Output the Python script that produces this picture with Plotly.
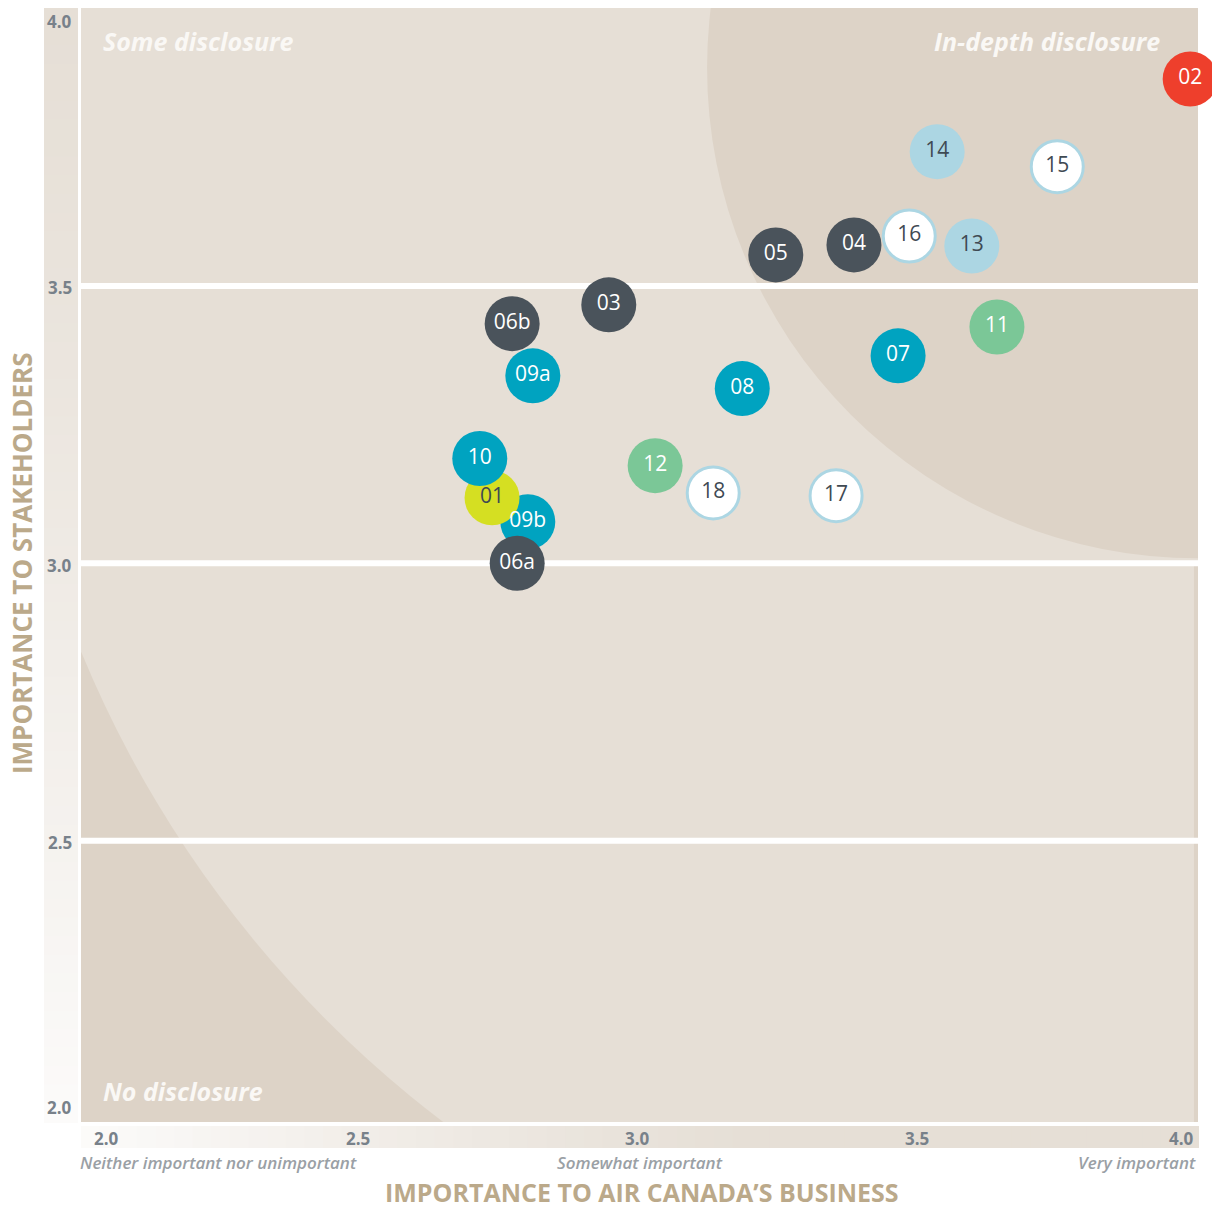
import plotly.graph_objects as go

# ---------------- data ----------------
labels = ["06b", "09a", "03", "09b", "01", "10", "06a", "12", "18", "17",
          "08", "07", "11", "05", "04", "16", "13", "14", "15", "02"]
business = [2.772, 2.809, 2.945, 2.800, 2.736, 2.714, 2.781, 3.028, 3.132, 3.352,
            3.184, 3.463, 3.640, 3.244, 3.384, 3.483, 3.595, 3.533, 3.748, 3.986]
stakeholders = [3.432, 3.338, 3.466, 3.075, 3.118, 3.189, 3.000, 3.176, 3.127, 3.122,
                3.315, 3.374, 3.426, 3.556, 3.574, 3.590, 3.572, 3.742, 3.715, 3.873]
groups = ["dark", "teal", "dark", "teal", "yellow", "teal", "dark", "green", "white", "white",
          "teal", "teal", "green", "dark", "dark", "white", "lightblue", "lightblue", "white", "red"]

x_ticks = [2.0, 2.5, 3.0, 3.5, 4.0]
x_tick_text = ["2.0", "2.5", "3.0", "3.5", "4.0"]
y_ticks = [2.0, 2.5, 3.0, 3.5, 4.0]
y_tick_text = ["2.0", "2.5", "3.0", "3.5", "4.0"]
x_scale_labels = ["Neither important nor unimportant", "Somewhat important", "Very important"]
x_scale_pos = [2.0, 3.0, 4.0]
zone_labels = ["Some disclosure", "In-depth disclosure", "No disclosure"]
grid_values = [2.5, 3.0, 3.5]

# ---------------- styles ----------------
fill = {"dark": "#4a535b", "teal": "#00a3c0", "yellow": "#d5df22", "green": "#7bc797",
        "white": "#ffffff", "lightblue": "#acd6e3", "red": "#ee3f2c"}
txtcol = {"dark": "#ffffff", "teal": "#ffffff", "yellow": "#3f4a53", "green": "#ffffff",
          "white": "#3f4a53", "lightblue": "#3f4a53", "red": "#ffffff"}
LIGHT = (230, 223, 214)
DARK = "#ddd3c7"
GREY = "#78818a"
TAN = "#bba98a"
FONT = "Open Sans"

W, H = 1212, 1209
ML, MR, MT, MB = 81, 14, 8, 87


def sy(py):  # screen y -> paper y
    return (H - MB - py) / (H - MT - MB)


def sx(px):  # screen x -> paper x
    return (px - ML) / (W - ML - MR)


fig = go.Figure()

# white grid lines (drawn under the markers)
gx, gy = [], []
for g in grid_values:
    gx += [1.9, 4.1, None]
    gy += [g, g, None]
fig.add_trace(go.Scatter(x=gx, y=gy, mode="lines", line=dict(color="white", width=6),
                         hoverinfo="skip", showlegend=False))

sizes = [52 if g == "white" else 55 for g in groups]
fig.add_trace(go.Scatter(
    x=business, y=stakeholders, mode="markers+text",
    text=labels, textposition="middle center",
    textfont=dict(family=FONT, size=21, color=[txtcol[g] for g in groups]),
    marker=dict(size=sizes, color=[fill[g] for g in groups], opacity=1,
                line=dict(color=["#acd6e3" if g == "white" else "rgba(0,0,0,0)" for g in groups],
                          width=[3 if g == "white" else 0 for g in groups])),
    cliponaxis=False, hoverinfo="skip", showlegend=False))

shapes = []
light = "rgb(%d,%d,%d)" % LIGHT
shapes.append(dict(type="circle", xref="x", yref="y", x0=1.848, x1=5.898, y0=1.5785, y1=5.6525,
                   fillcolor=light, line=dict(width=0), layer="below"))
shapes.append(dict(type="circle", xref="x", yref="y", x0=3.121, x1=4.879, y0=3.009, y1=4.777,
                   fillcolor=DARK, line=dict(width=0), layer="below"))
# thin darker edge on the right below the 3.0 line
shapes.append(dict(type="rect", xref="x", yref="y", x0=3.9928, x1=4.01, y0=1.98, y1=3.0,
                   fillcolor=DARK, line=dict(width=0), layer="below"))


def mix(t):
    w = (252, 251, 250)
    c = tuple(int(round(LIGHT[i] + (w[i] - LIGHT[i]) * t)) for i in range(3))
    return "rgb(%d,%d,%d)" % c


N = 60
top_px, bot_px = 8, 1122
for i in range(N):
    p0 = top_px + (bot_px - top_px) * i / N
    p1 = top_px + (bot_px - top_px) * (i + 1) / N + 1
    t = ((i + 0.5) / N) ** 1.3
    shapes.append(dict(type="rect", xref="paper", yref="paper",
                       x0=sx(44), x1=sx(78), y0=sy(p1), y1=sy(p0),
                       fillcolor=mix(t), line=dict(width=0), layer="below"))
for i in range(N):
    q0 = 81 + (1198 - 81) * i / N
    q1 = 81 + (1198 - 81) * (i + 1) / N + 1
    t = max(0.0, 1 - (i + 0.5) / (N * 0.6)) ** 1.2
    shapes.append(dict(type="rect", xref="paper", yref="paper",
                       x0=sx(q0), x1=sx(q1), y0=sy(1148), y1=sy(1126),
                       fillcolor=mix(t), line=dict(width=0), layer="below"))

ann = []
yshifts = {4.0: -13, 2.0: 11}
for v, t in zip(y_ticks, y_tick_text):
    ann.append(dict(x=0, xref="paper", y=v, yref="y", text=t, showarrow=False,
                    xanchor="right", yanchor="middle", xshift=-7, yshift=yshifts.get(v, -2),
                    font=dict(family=FONT, size=17, color=GREY, weight=700)))
for v, t in zip(x_ticks, x_tick_text):
    xa, xs = "center", -2
    if v == x_ticks[0]:
        xa, xs = "left", 11
    if v == x_ticks[-1]:
        xa, xs = "right", -2
    ann.append(dict(x=v, xref="x", y=0, yref="paper", text=t, showarrow=False,
                    xanchor=xa, yanchor="middle", xshift=xs, yshift=-16,
                    font=dict(family=FONT, size=17, color=GREY, weight=700)))
for v, t in zip(x_scale_pos, x_scale_labels):
    xa = "left" if v == x_scale_pos[0] else ("right" if v == x_scale_pos[-1] else "center")
    ann.append(dict(x=v, xref="x", y=0, yref="paper", text="<i>%s</i>" % t, showarrow=False,
                    xanchor=xa, yanchor="middle", xshift=(-3 if xa == "left" else 0), yshift=-40,
                    font=dict(family=FONT, size=17, color="#9aa0a5", weight=600)))
ann.append(dict(x=sx(642), xref="paper", y=0, yref="paper",
                text="IMPORTANCE TO AIR CANADA’S BUSINESS", showarrow=False,
                xanchor="center", yanchor="middle", yshift=-70,
                font=dict(family=FONT, size=25, color=TAN, weight=700)))
ann.append(dict(x=0, xref="paper", y=sy(563), yref="paper",
                text="IMPORTANCE TO STAKEHOLDERS", showarrow=False, textangle=-90,
                xanchor="center", yanchor="middle", xshift=-59,
                font=dict(family=FONT, size=26, color=TAN, weight=700)))
zone_pos = [(2.036, 3.941, "left"), (3.936, 3.941, "right"), (2.036, 2.049, "left")]
for t, (zx, zy, xa) in zip(zone_labels, zone_pos):
    ann.append(dict(x=zx, xref="x", y=zy, yref="y", text="<i>%s</i>" % t, showarrow=False,
                    xanchor=xa, yanchor="middle",
                    font=dict(family=FONT, size=25, color="#faf8f5", weight=700)))

fig.update_layout(
    width=W, height=H,
    margin=dict(l=ML, r=MR, t=MT, b=MB),
    paper_bgcolor="white", plot_bgcolor=DARK,
    xaxis=dict(range=[2.0, 4.0], showgrid=False, zeroline=False, showticklabels=False,
               showline=False, fixedrange=True),
    yaxis=dict(range=[1.993, 4.001], showgrid=False, zeroline=False, showticklabels=False,
               showline=False, fixedrange=True),
    shapes=shapes, annotations=ann,
)

fig.write_html("out.html", config={"displayModeBar": False},
               post_script="document.body.style.margin='0';document.body.style.overflow='hidden';")
